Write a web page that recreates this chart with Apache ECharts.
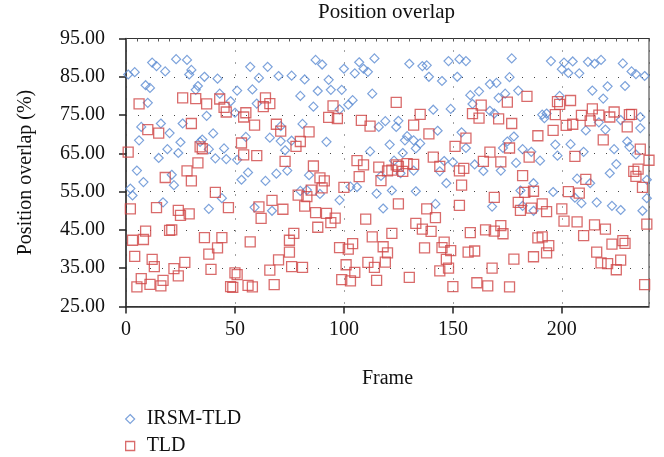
<!DOCTYPE html>
<html>
<head>
<meta charset="utf-8">
<script src="https://cdn.jsdelivr.net/npm/echarts@6/dist/echarts.min.js"></script>
<style>
html,body{margin:0;padding:0;background:#fff;}
#chart{width:664px;height:457px;}
</style>
</head>
<body>
<div id="chart"></div>
<script>
// IRSM-TLD: [frame, position overlap %]
var irsmA = [[1,85.6],[4,86.2],[12,88.7],[14,87.8],[18,86.4],[23,89.6],[28,89.4],[30,86.8],[29,85.6],[9,82.8],[11,82.1],[32,81.6],[33,82.6],[10,78.2],[7,71.9],[16,72.8],[20,70.3],[26,72.8],[37,74.8],[6,68.4],[19,66.1],[25,67.9],[24,65.1],[34,68],[15,63.8],[5,60.5],[8,57.5],[21,59.4],[22,56.7],[2,55.8],[3,54],[17,52.2],[38,50.5]];
var irsmB = [[36,85],[42,84.5],[57,87.6],[65,87.6],[61,84.7],[70,85.2],[76,85.3],[51,81.4],[58,81.7],[43,80.6],[48,78.6],[50,75.6],[60,78],[80,80],[40,70.2],[55,69.3],[66,69.1],[71,68.2],[76,68.3],[71,72.1],[38,66.1],[45,66.3],[41,63.7],[46,63.5],[51,63.3],[73,65.8],[35,68.6],[56,60],[53,58.1],[64,57.8],[69,59.7],[74,60.5],[44,53.3],[59,50.9],[67,50]];
var irsmC = [[82,84.3],[87,89.4],[90,88.2],[93,84.2],[88,81.3],[94,81.6],[99,81.6],[100,87.1],[105,85.9],[107,88.8],[109,87.1],[111,86.3],[114,89.8],[86,77.2],[104,78.9],[102,77.7],[98,76.5],[113,80.6],[81,72.7],[119,73.4],[116,71.9],[92,68],[112,65.5],[121,67.3],[84,59.3],[89,54.4],[98,52.8],[106,56.2],[103,56.3],[115,54.5],[118,50.6],[117,59.1],[80,55.2],[83,55.4]];
var irsmD = [[130,88.4],[136,87.8],[138,88],[139,85],[145,83.9],[148,89.1],[153,89.6],[156,89.1],[152,85],[158,80.2],[162,81.2],[159,77.9],[141,76.4],[149,76.6],[125,73.5],[124,71.9],[143,70.9],[129,69.5],[128,68.4],[132,68.4],[135,67.6],[133,66.3],[127,65.1],[154,70.5],[156,66.4],[123,63.1],[146,63],[144,60.3],[150,62.7],[147,57.2],[160,62.1],[126,59.8],[132,60.5],[122,55.3],[133,55.1],[142,51.8]];
var irsmE = [[177,89.8],[195,89.1],[201,88.7],[200,87],[203,86],[176,84.9],[167,83.1],[170,83.4],[180,81.4],[174,80.6],[171,79.5],[167,76.1],[169,75.4],[199,80],[191,75.1],[193,75.4],[192,74.2],[178,69.4],[175,68.1],[173,66.4],[182,66.1],[186,65.4],[190,63.1],[197,67.3],[198,64.4],[204,67.4],[164,60.4],[172,60.5],[179,62.5],[187,57.2],[181,55.3],[196,54.9],[168,51.1],[182,51.3],[187,50]];
var irsmF = [[205,89],[212,88.9],[215,88.4],[218,89.4],[208,85.9],[228,88.5],[232,86.4],[234,85.7],[238,85.2],[214,81.4],[221,82.5],[229,82.6],[219,79.3],[236,74.5],[236,71.6],[227,73.7],[220,71.2],[211,71],[217,73.1],[230,68.1],[231,66.7],[234,64.7],[224,66.1],[210,65.4],[225,62.2],[222,59.8],[207,58.4],[213,57.2],[206,53.4],[209,52],[216,52.2],[223,51.3],[227,50.2],[237,50],[239,53.3],[239,58.1]];

// TLD: [frame, position overlap %]
var tldA = [[6,77.9],[26,79.5],[32,79.3],[37,77.9],[10,71.2],[15,70.3],[30,72.8],[1,65.3],[34,66.7],[35,66.2],[33,62.5],[28,60.4],[18,58.7],[30,57.8],[2,50.5],[14,50.8],[24,50.1],[25,48.8],[29,49.2],[9,44.7],[3,42.3],[8,42.5],[20,44.9],[21,45],[36,43],[4,38.1],[12,37.3],[13,35.4],[22,34.9],[27,36.5],[24,33],[38,38.7],[39,34.7],[7,32.3],[5,30.1],[11,30.8],[16,30.4],[17,31.8]];
var tldB = [[43,79.2],[45,77],[46,75.8],[54,74.5],[55,75.6],[64,79.5],[63,77.2],[66,78],[59,72.4],[69,72.6],[71,70.8],[53,67.7],[54,64.6],[60,64.4],[73,62.9],[41,54.8],[47,50.8],[61,51],[67,52.7],[72,50.4],[62,48],[44,43],[42,40.3],[57,41.9],[75,42.3],[77,44.1],[75,39.2],[76,35.4],[70,37.2],[81,35.2],[50,33.8],[51,33.3],[66,34.5],[48,30.2],[49,30],[56,30.5],[58,30.1],[68,30.7]];
var tldC = [[95,77.4],[93,74.4],[97,74.1],[108,73.6],[112,72.1],[84,70.6],[80,68.1],[78,66.8],[86,61.7],[106,63.1],[109,62],[116,61.4],[117,57.9],[120,60.4],[107,58.9],[89,58.6],[91,57.8],[90,56],[85,55.4],[79,54.1],[83,53.7],[100,56.1],[82,51.2],[87,49.5],[92,49.3],[94,46.9],[96,48.1],[88,45.7],[110,47.8],[113,43.2],[118,40.6],[120,39],[119,36.6],[104,41.4],[102,40],[98,40.4],[101,35.9],[105,33.9],[103,31.7],[99,32],[111,36.5],[114,35.2],[115,31.8]];
var tldD = [[124,78.3],[135,75.2],[132,72.4],[139,70.1],[156,69],[151,66.8],[159,75.4],[162,74.2],[141,64],[144,61.6],[153,60.4],[155,61.1],[154,56.7],[122,60.6],[124,62],[125,61.6],[127,60.3],[129,62.3],[132,62.1],[125,51.8],[138,50.5],[142,48.2],[153,51.4],[133,46.7],[136,45.2],[140,44.6],[122,44.1],[158,44.3],[137,40.3],[146,41.8],[145,40.4],[149,39.6],[147,37.3],[148,35],[144,34.3],[130,32.6],[150,30.2],[157,39.2],[160,39.5],[161,31.2]];
var tldE = [[163,77.6],[175,78.4],[184,79.9],[198,78.5],[199,77.8],[171,74],[177,72.8],[197,75.1],[196,71],[202,72.3],[189,69.6],[167,65.3],[164,62.9],[172,62.8],[176,66.4],[185,64],[182,59.2],[169,53.5],[183,54.8],[187,55.1],[180,52.2],[181,50.1],[186,50.7],[191,51.8],[193,49.8],[200,50.5],[201,47.3],[203,55],[165,45],[169,44.7],[172,46.1],[173,44],[189,42.9],[191,43.2],[194,40.9],[193,39],[187,38],[178,37.4],[168,35],[166,30.4],[176,30.1]];
var tldF = [[204,78.8],[205,72.6],[209,74.9],[213,73.5],[214,76.6],[217,75],[222,74.5],[224,75.8],[231,75.1],[232,75.2],[230,71.9],[219,68.5],[236,66.1],[240,63.2],[206,64.2],[211,58.2],[234,59],[235,60.9],[233,60.3],[237,56.1],[208,54.6],[207,47.1],[215,46.3],[220,45.2],[210,43.5],[239,46.5],[223,41.3],[228,42.2],[229,41.5],[216,39.2],[218,36.4],[221,36.2],[227,37.1],[225,34.6],[238,30.7]];

var seriesNames = ['IRSM-TLD', 'TLD'];
var titleText = 'Position overlap';
var xName = 'Frame';
var yName = 'Position overlap (%)';

var irsmData = [].concat(irsmA, irsmB, irsmC, irsmD, irsmE, irsmF);
var tldData = [].concat(tldA, tldB, tldC, tldD, tldE, tldF);

var BLUE = '#5b8bd2';
var RED = '#cf4646';
var FONT = '"Liberation Serif", "DejaVu Serif", serif';

var chart = echarts.init(document.getElementById('chart'), null, {renderer: 'canvas'});
chart.setOption({
  animation: false,
  backgroundColor: '#fff',
  title: {
    text: titleText, left: 318, top: 2, padding: 0,
    textStyle: {fontFamily: FONT, fontSize: 21, fontWeight: 'normal', color: '#111'}
  },
  grid: {left: 126, right: 15, top: 38.5, bottom: 150.5, show: true, borderColor: '#333', borderWidth: 1},
  legend: {
    orient: 'vertical', left: 125, top: 409, padding: 0, itemGap: 7, itemWidth: 9, itemHeight: 9,
    textStyle: {fontFamily: FONT, fontSize: 20, color: '#111', padding: [0, 0, 0, 7]},
    data: [
      {name: seriesNames[0], icon: 'diamond', itemStyle: {color: 'transparent', borderColor: BLUE, borderWidth: 1.2}},
      {name: seriesNames[1], icon: 'rect', itemStyle: {color: 'transparent', borderColor: RED, borderWidth: 1.3}}
    ]
  },
  xAxis: [{
    type: 'value', min: 0, max: 240, interval: 50, position: 'bottom',
    name: xName, nameLocation: 'middle', nameGap: 62,
    nameTextStyle: {fontFamily: FONT, fontSize: 20, color: '#111'},
    axisLine: {show: true, onZero: false, lineStyle: {color: '#333', width: 1.5}},
    axisTick: {show: true, inside: false, length: 7, lineStyle: {color: '#222', width: 1.5}},
    axisLabel: {fontFamily: FONT, fontSize: 20, color: '#111', margin: 13, showMaxLabel: false},
    splitLine: {show: true, lineStyle: {color: '#444', width: 1, type: [1, 11]}}
  }, {
    type: 'value', min: 0, max: 240, interval: 50, position: 'top',
    axisLine: {show: true, onZero: false, lineStyle: {color: '#333', width: 1}},
    axisTick: {show: true, inside: true, length: 3, lineStyle: {color: '#555'}},
    minorTick: {show: true, splitNumber: 10, length: 3, lineStyle: {color: '#555'}},
    axisLabel: {show: false},
    splitLine: {show: false}
  }],
  yAxis: {
    type: 'value', min: 25, max: 95, interval: 10,
    name: yName, nameLocation: 'middle', nameGap: 90, nameRotate: 90,
    nameTextStyle: {fontFamily: FONT, fontSize: 20, color: '#111'},
    axisLine: {show: true, onZero: false, lineStyle: {color: '#333', width: 1.5}},
    axisTick: {show: true, inside: false, length: 7, lineStyle: {color: '#222', width: 1.5}},
    axisLabel: {fontFamily: FONT, fontSize: 20, color: '#111', margin: 21,
      formatter: function (v) { return v.toFixed(2); }},
    splitLine: {show: true, lineStyle: {color: '#444', width: 1, type: [1, 11]}}
  },
  series: [{
    name: seriesNames[0], type: 'scatter', xAxisIndex: 0, data: irsmData,
    symbol: 'diamond', symbolSize: 9,
    itemStyle: {color: 'transparent', borderColor: BLUE, borderWidth: 1.2}
  }, {
    name: seriesNames[1], type: 'scatter', xAxisIndex: 0, data: tldData,
    symbol: 'rect', symbolSize: 10,
    itemStyle: {color: 'transparent', borderColor: RED, borderWidth: 1.3}
  }]
});
</script>
</body>
</html>
